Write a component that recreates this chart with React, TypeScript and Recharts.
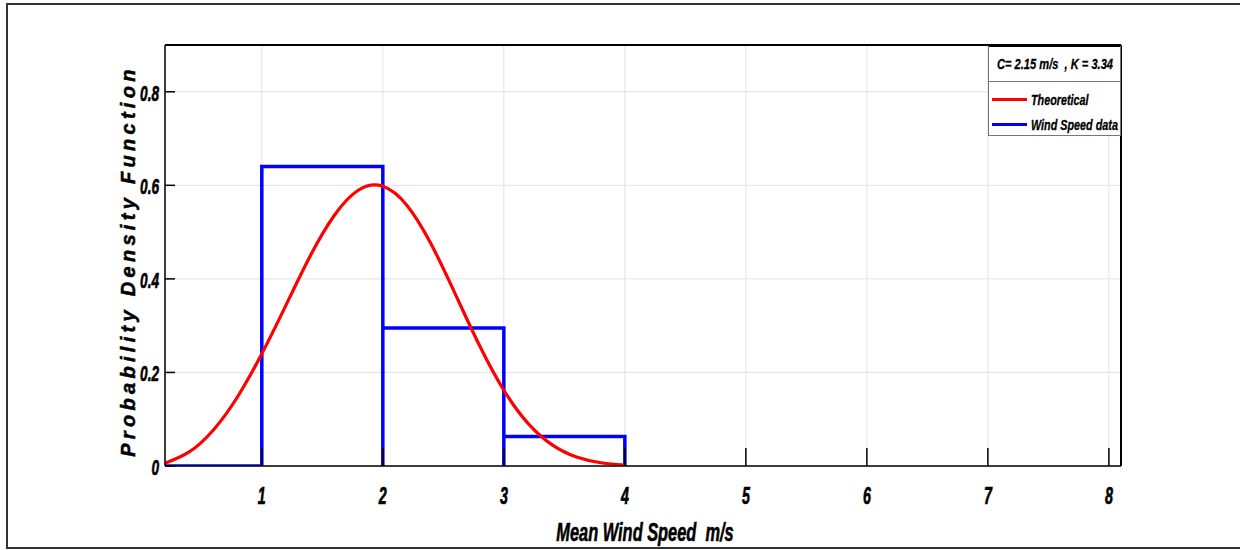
import React from 'react';
import { LineChart, Line, XAxis, YAxis, CartesianGrid } from 'recharts';

const xTicks = [1, 2, 3, 4, 5, 6, 7, 8];
const yTicks = [0, 0.2, 0.4, 0.6, 0.8];

const theoreticalX = [0.2, 0.4, 0.6, 0.8, 1.0, 1.2, 1.4, 1.6, 1.8, 2.0, 2.2, 2.4, 2.6, 2.8, 3.0, 3.2, 3.4, 3.6, 3.8, 4.0];
const theoreticalY = [0.006, 0.03, 0.077, 0.148, 0.24, 0.344, 0.449, 0.536, 0.59, 0.598, 0.557, 0.474, 0.367, 0.257, 0.162, 0.091, 0.045, 0.019, 0.007, 0.002];

const histX = [0.2, 1, 1, 2, 2, 2, 3, 3, 3, 4, 4];
const histY = [0, 0, 0.64, 0.64, 0, 0.295, 0.295, 0, 0.063, 0.063, 0];

const theoretical = theoreticalX.map((x, i) => ({ x, y: theoreticalY[i] }));
const hist = histX.map((x, i) => ({ x, y: histY[i] }));

const FONT = "'Liberation Sans', Arial, sans-serif";

const XTick = (props: any) => {
  const { x, y, payload } = props;
  return (
    <text
      transform={`translate(${x},${y + 56}) scale(0.62,1)`}
      textAnchor="middle"
      fontFamily={FONT}
      fontWeight="bold"
      fontStyle="italic"
      fontSize={23}
      fill="#000"
      stroke="#000"
      strokeWidth={0.7}
    >
      {payload.value}
    </text>
  );
};

const YTick = (props: any) => {
  const { x, y, payload } = props;
  return (
    <text
      transform={`translate(${x - 16},${y + 9}) scale(0.62,1)`}
      textAnchor="end"
      fontFamily={FONT}
      fontWeight="bold"
      fontStyle="italic"
      fontSize={22}
      fill="#000"
      stroke="#000"
      strokeWidth={0.7}
    >
      {payload.value}
    </text>
  );
};

const squash = (s: number, origin: string): React.CSSProperties => ({
  display: 'inline-block',
  transform: `scaleX(${s})`,
  transformOrigin: origin,
  whiteSpace: 'pre',
});

export default function App() {
  return (
    <div style={{ position: 'absolute', left: 0, top: 0, width: 1240, height: 550, overflow: 'hidden', background: '#fff' }}>
      <div style={{ position: 'absolute', left: 6, top: 3, width: 1260, height: 542, border: '2px solid #333', boxSizing: 'content-box' }} />
      <div style={{ position: 'absolute', left: 0, top: 0 }}>
        <LineChart width={1240} height={550} margin={{ top: 44, right: 118, bottom: 83, left: 164 }}>
          <CartesianGrid stroke="#e2e2e2" strokeWidth={1} />
          <XAxis
            dataKey="x"
            type="number"
            domain={[0.2, 8.1]}
            ticks={xTicks}
            allowDataOverflow
            height={1}
            tickSize={-18}
            tickMargin={0}
            tickLine={{ stroke: '#000', strokeWidth: 1.5 }}
            axisLine={{ stroke: '#000', strokeWidth: 1.5 }}
            tick={<XTick />}
          />
          <XAxis
            xAxisId="top"
            orientation="top"
            dataKey="x"
            type="number"
            domain={[0.2, 8.1]}
            ticks={xTicks}
            allowDataOverflow
            height={1}
            tickSize={-18}
            tick={false}
            tickLine={{ stroke: '#000', strokeWidth: 1.5 }}
            axisLine={{ stroke: '#000', strokeWidth: 2 }}
          />
          <YAxis
            type="number"
            domain={[0, 0.9]}
            ticks={yTicks}
            allowDataOverflow
            width={1}
            tickSize={-10}
            tickMargin={0}
            tickLine={{ stroke: '#000', strokeWidth: 1.5 }}
            axisLine={{ stroke: '#000', strokeWidth: 1.5 }}
            tick={<YTick />}
          />
          <YAxis
            yAxisId="right"
            orientation="right"
            type="number"
            domain={[0, 0.9]}
            ticks={yTicks}
            allowDataOverflow
            width={1}
            tickSize={-10}
            tick={false}
            tickLine={{ stroke: '#000', strokeWidth: 1.5 }}
            axisLine={{ stroke: '#000', strokeWidth: 2 }}
          />
          <Line data={hist} dataKey="y" type="linear" stroke="#0000ff" strokeWidth={3.5} dot={false} isAnimationActive={false} />
          <Line data={theoretical} dataKey="y" type="natural" stroke="#ff0000" strokeWidth={3.2} dot={false} isAnimationActive={false} />
        </LineChart>
      </div>
      <div
        style={{
          position: 'absolute', left: 128, top: 261, transform: 'translate(-50%, -50%) rotate(-90deg)',
          whiteSpace: 'nowrap', fontFamily: FONT, fontWeight: 'bold', fontStyle: 'italic', fontSize: 20, letterSpacing: 4.3, color: '#000',
          WebkitTextStroke: '0.5px #000',
        }}
      >
        Probability Density Function
      </div>
      <div
        style={{
          position: 'absolute', left: 645, top: 532, width: 0, height: 0,
        }}
      >
        <div
          style={{
            position: 'absolute', left: 0, top: 0, transform: 'translate(-50%, -50%) scaleX(0.63)',
            whiteSpace: 'pre', fontFamily: FONT, fontWeight: 'bold', fontStyle: 'italic', fontSize: 26, color: '#000', lineHeight: '30px',
            WebkitTextStroke: '0.6px #000',
          }}
        >
          {'Mean Wind Speed  m/s'}
        </div>
      </div>
      <div
        style={{
          position: 'absolute', left: 988, top: 45, width: 133, height: 91, background: '#fff',
          borderLeft: '1px solid #777', borderRight: '1px solid #777', borderBottom: '1px solid #777', borderTop: '2px solid #000',
          boxSizing: 'border-box', fontFamily: FONT, fontWeight: 'bold', fontStyle: 'italic', fontSize: 15, color: '#000',
          WebkitTextStroke: '0.3px #000',
        }}
      >
        <div style={{ position: 'relative', height: 34, borderBottom: '1px solid #777' }}>
          <span
            style={{
              position: 'absolute', left: '50%', top: '50%', transform: 'translate(-50%, -50%) scaleX(0.74)',
              whiteSpace: 'pre', lineHeight: '18px',
            }}
          >
            {'C= 2.15 m/s  , K = 3.34'}
          </span>
        </div>
        <div style={{ display: 'flex', alignItems: 'center', height: 22, marginTop: 6, whiteSpace: 'nowrap' }}>
          <span style={{ display: 'inline-block', flexShrink: 0, width: 35, height: 3, background: '#ff0000', marginLeft: 3, marginRight: 4 }} />
          <span style={squash(0.72, 'left center')}>Theoretical</span>
        </div>
        <div style={{ display: 'flex', alignItems: 'center', height: 22, marginTop: 3, whiteSpace: 'nowrap' }}>
          <span style={{ display: 'inline-block', flexShrink: 0, width: 35, height: 3, background: '#0000ff', marginLeft: 3, marginRight: 4 }} />
          <span style={squash(0.72, 'left center')}>Wind Speed data</span>
        </div>
      </div>
    </div>
  );
}
